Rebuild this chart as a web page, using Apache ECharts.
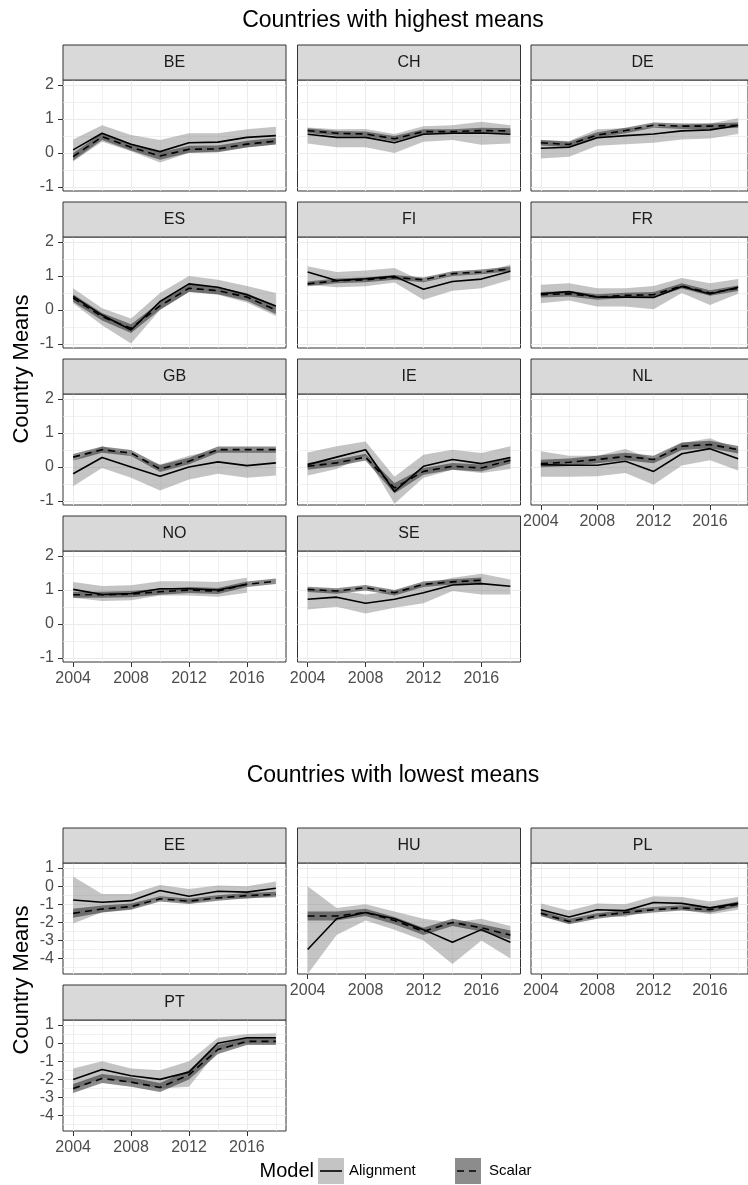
<!DOCTYPE html>
<html><head><meta charset="utf-8">
<script src="https://cdn.jsdelivr.net/npm/echarts@6/dist/echarts.min.js"></script>
<style>html,body{margin:0;padding:0;background:#fff}#c{width:748px;height:1185px}</style>
</head><body><div id="c"></div>
<script>
// ---------- data ----------
const years = [2004, 2006, 2008, 2010, 2012, 2014, 2016, 2018];
const xTickLabels = [2004, 2008, 2012, 2016];
const xMinorBreaks = [2006, 2010, 2014, 2018];
const yTicksHigh = [-1, 0, 1, 2];
const yMinorHigh = [-0.5, 0.5, 1.5];
const yTicksLow = [-4, -3, -2, -1, 0, 1];
const yMinorLow = [-4.5, -3.5, -2.5, -1.5, -0.5, 0.5];
const sectionTitles = ['Countries with highest means', 'Countries with lowest means'];
const modelNames = ['Alignment', 'Scalar'];

const BE_aln   = [0.09, 0.58, 0.26, 0.04, 0.30, 0.32, 0.46, 0.51];
const BE_alnLo = [-0.25, 0.33, 0.05, -0.28, 0.00, 0.04, 0.17, 0.26];
const BE_alnHi = [0.40, 0.82, 0.53, 0.38, 0.58, 0.58, 0.70, 0.77];
const BE_sca   = [-0.11, 0.48, 0.17, -0.09, 0.11, 0.12, 0.26, 0.35];
const BE_scaLo = [-0.22, 0.38, 0.07, -0.20, 0.01, 0.02, 0.16, 0.25];
const BE_scaHi = [0.00, 0.58, 0.27, 0.02, 0.21, 0.22, 0.36, 0.45];

const CH_aln   = [0.55, 0.46, 0.46, 0.30, 0.55, 0.58, 0.59, 0.55];
const CH_alnLo = [0.28, 0.17, 0.17, 0.00, 0.33, 0.38, 0.24, 0.28];
const CH_alnHi = [0.75, 0.70, 0.71, 0.56, 0.79, 0.82, 0.92, 0.82];
const CH_sca   = [0.66, 0.58, 0.56, 0.42, 0.63, 0.63, 0.66, 0.65];
const CH_scaLo = [0.59, 0.51, 0.49, 0.34, 0.56, 0.56, 0.58, 0.57];
const CH_scaHi = [0.73, 0.65, 0.63, 0.50, 0.70, 0.70, 0.74, 0.73];

const DE_aln   = [0.14, 0.17, 0.45, 0.51, 0.56, 0.65, 0.68, 0.81];
const DE_alnLo = [-0.16, -0.11, 0.21, 0.26, 0.30, 0.40, 0.43, 0.56];
const DE_alnHi = [0.38, 0.35, 0.70, 0.73, 0.75, 0.82, 0.87, 1.02];
const DE_sca   = [0.30, 0.25, 0.53, 0.66, 0.82, 0.79, 0.79, 0.82];
const DE_scaLo = [0.22, 0.17, 0.45, 0.58, 0.74, 0.71, 0.71, 0.74];
const DE_scaHi = [0.38, 0.33, 0.61, 0.74, 0.90, 0.87, 0.87, 0.90];

const ES_aln   = [0.40, -0.15, -0.59, 0.25, 0.77, 0.67, 0.45, 0.12];
const ES_alnLo = [0.20, -0.45, -0.99, 0.00, 0.54, 0.45, 0.22, -0.18];
const ES_alnHi = [0.64, 0.05, -0.25, 0.50, 1.00, 0.89, 0.71, 0.50];
const ES_sca   = [0.35, -0.20, -0.54, 0.12, 0.64, 0.57, 0.38, 0.00];
const ES_scaLo = [0.24, -0.31, -0.68, 0.01, 0.53, 0.46, 0.27, -0.12];
const ES_scaHi = [0.46, -0.09, -0.42, 0.23, 0.75, 0.68, 0.49, 0.12];

const FI_aln   = [1.12, 0.87, 0.92, 0.99, 0.61, 0.84, 0.91, 1.14];
const FI_alnLo = [0.74, 0.67, 0.70, 0.81, 0.30, 0.57, 0.64, 0.89];
const FI_alnHi = [1.29, 1.12, 1.16, 1.24, 0.84, 1.04, 1.09, 1.34];
const FI_sca   = [0.77, 0.86, 0.89, 0.96, 0.89, 1.07, 1.12, 1.21];
const FI_scaLo = [0.70, 0.79, 0.82, 0.89, 0.82, 1.00, 1.05, 1.14];
const FI_scaHi = [0.84, 0.93, 0.96, 1.03, 0.96, 1.14, 1.19, 1.28];

const FR_aln   = [0.48, 0.54, 0.38, 0.38, 0.37, 0.69, 0.47, 0.67];
const FR_alnLo = [0.20, 0.28, 0.10, 0.10, 0.02, 0.50, 0.15, 0.48];
const FR_alnHi = [0.74, 0.79, 0.64, 0.64, 0.71, 0.94, 0.79, 0.91];
const FR_sca   = [0.45, 0.48, 0.38, 0.43, 0.45, 0.71, 0.50, 0.64];
const FR_scaLo = [0.37, 0.40, 0.30, 0.35, 0.37, 0.63, 0.42, 0.56];
const FR_scaHi = [0.53, 0.56, 0.46, 0.51, 0.53, 0.79, 0.58, 0.72];

const GB_aln   = [-0.20, 0.28, 0.00, -0.27, 0.00, 0.15, 0.04, 0.12];
const GB_alnLo = [-0.57, -0.03, -0.32, -0.69, -0.37, -0.20, -0.32, -0.25];
const GB_alnHi = [0.17, 0.61, 0.33, 0.07, 0.33, 0.51, 0.46, 0.46];
const GB_sca   = [0.29, 0.51, 0.41, -0.06, 0.17, 0.51, 0.51, 0.51];
const GB_scaLo = [0.18, 0.42, 0.32, -0.15, 0.08, 0.42, 0.42, 0.42];
const GB_scaHi = [0.38, 0.60, 0.50, 0.06, 0.27, 0.60, 0.60, 0.60];

const IE_aln   = [0.07, 0.29, 0.51, -0.72, 0.02, 0.22, 0.10, 0.28];
const IE_alnLo = [-0.25, -0.06, 0.33, -1.08, -0.32, -0.08, -0.18, -0.06];
const IE_alnHi = [0.43, 0.61, 0.75, -0.29, 0.36, 0.51, 0.41, 0.61];
const IE_sca   = [0.02, 0.12, 0.29, -0.62, -0.13, 0.02, -0.03, 0.20];
const IE_scaLo = [-0.08, 0.02, 0.19, -0.78, -0.23, -0.08, -0.13, 0.10];
const IE_scaHi = [0.12, 0.22, 0.39, -0.47, -0.03, 0.12, 0.07, 0.30];

const NL_aln   = [0.07, 0.05, 0.05, 0.17, -0.13, 0.39, 0.54, 0.24];
const NL_alnLo = [-0.29, -0.29, -0.27, -0.18, -0.52, 0.04, 0.20, -0.10];
const NL_alnHi = [0.46, 0.33, 0.33, 0.53, 0.22, 0.71, 0.85, 0.53];
const NL_sca   = [0.10, 0.14, 0.22, 0.31, 0.22, 0.61, 0.66, 0.51];
const NL_scaLo = [-0.01, 0.03, 0.11, 0.20, 0.11, 0.50, 0.55, 0.40];
const NL_scaHi = [0.21, 0.25, 0.33, 0.42, 0.33, 0.72, 0.77, 0.62];

const NO_aln   = [1.02, 0.87, 0.90, 1.04, 1.04, 1.00, 1.17, null];
const NO_alnLo = [0.77, 0.68, 0.70, 0.84, 0.84, 0.80, 0.92, null];
const NO_alnHi = [1.24, 1.12, 1.14, 1.26, 1.26, 1.24, 1.36, null];
const NO_sca   = [0.86, 0.86, 0.88, 0.95, 1.00, 0.97, 1.17, 1.26];
const NO_scaLo = [0.77, 0.77, 0.79, 0.86, 0.91, 0.88, 1.09, 1.18];
const NO_scaHi = [0.95, 0.95, 0.97, 1.04, 1.09, 1.06, 1.25, 1.34];

const SE_aln   = [0.73, 0.79, 0.61, 0.73, 0.92, 1.15, 1.19, 1.11];
const SE_alnLo = [0.43, 0.51, 0.31, 0.48, 0.61, 0.97, 0.87, 0.87];
const SE_alnHi = [1.02, 1.00, 0.87, 0.97, 1.17, 1.36, 1.48, 1.31];
const SE_sca   = [1.02, 0.97, 1.07, 0.92, 1.17, 1.24, 1.29, null];
const SE_scaLo = [0.94, 0.89, 0.99, 0.84, 1.09, 1.16, 1.21, null];
const SE_scaHi = [1.10, 1.05, 1.15, 1.00, 1.25, 1.32, 1.37, null];

const EE_aln   = [-0.76, -0.89, -0.80, -0.24, -0.56, -0.28, -0.33, -0.11];
const EE_alnLo = [-2.06, -1.44, -1.26, -0.61, -0.94, -0.65, -0.70, -0.52];
const EE_alnHi = [0.54, -0.43, -0.43, 0.07, -0.15, 0.04, 0.00, 0.26];
const EE_sca   = [-1.50, -1.26, -1.13, -0.70, -0.83, -0.65, -0.52, -0.46];
const EE_scaLo = [-1.75, -1.45, -1.30, -0.85, -0.98, -0.80, -0.67, -0.61];
const EE_scaHi = [-1.25, -1.07, -0.96, -0.55, -0.68, -0.50, -0.37, -0.31];

const HU_aln   = [-3.5, -1.8, -1.45, -1.8, -2.4, -3.1, -2.4, -3.1];
const HU_alnLo = [-4.9, -2.7, -1.9, -2.4, -3.0, -4.3, -3.0, -4.0];
const HU_alnHi = [0.0, -1.2, -1.0, -1.4, -1.8, -2.0, -1.8, -2.2];
const HU_sca   = [-1.65, -1.65, -1.45, -1.9, -2.5, -2.0, -2.3, -2.7];
const HU_scaLo = [-1.9, -1.9, -1.65, -2.1, -2.7, -2.2, -2.5, -2.95];
const HU_scaHi = [-1.4, -1.4, -1.25, -1.7, -2.3, -1.8, -2.1, -2.45];

const PL_aln   = [-1.3, -1.7, -1.3, -1.35, -0.9, -0.95, -1.2, -0.95];
const PL_alnLo = [-1.65, -2.05, -1.65, -1.7, -1.25, -1.3, -1.55, -1.3];
const PL_alnHi = [-0.95, -1.35, -0.95, -1.0, -0.55, -0.6, -0.85, -0.6];
const PL_sca   = [-1.5, -1.95, -1.65, -1.45, -1.3, -1.2, -1.3, -1.0];
const PL_scaLo = [-1.65, -2.1, -1.8, -1.6, -1.45, -1.35, -1.45, -1.15];
const PL_scaHi = [-1.35, -1.8, -1.5, -1.3, -1.15, -1.05, -1.15, -0.85];

const PT_aln   = [-2.0, -1.45, -1.8, -2.0, -1.6, 0.0, 0.3, 0.3];
const PT_alnLo = [-2.6, -1.9, -2.2, -2.5, -2.4, -0.4, 0.0, 0.0];
const PT_alnHi = [-1.4, -1.0, -1.4, -1.5, -1.0, 0.3, 0.5, 0.55];
const PT_sca   = [-2.5, -1.95, -2.15, -2.45, -1.75, -0.35, 0.1, 0.1];
const PT_scaLo = [-2.75, -2.2, -2.4, -2.7, -2.0, -0.6, -0.1, -0.1];
const PT_scaHi = [-2.25, -1.7, -1.9, -2.2, -1.5, -0.1, 0.3, 0.3];

// ---------- layout / style ----------
const FONT = 'Liberation Sans, Arial, sans-serif';
const colLeft = [63, 297.5, 531];
const panelW = 223;
const stripH = 35;
const plotH = 111;
const rowPitch = 157;
const sections = [
  { stripTop0: 45, yMin: -1.12, yMax: 2.15, ticks: yTicksHigh, minor: yMinorHigh, titleY: 21, axTitleY: 369 },
  { stripTop0: 828, yMin: -4.85, yMax: 1.28, ticks: yTicksLow, minor: yMinorLow, titleY: 776, axTitleY: 980 }
];
const ALN_FILL = 'rgba(137,137,137,0.5)';
const SCA_FILL = 'rgba(25,25,25,0.5)';

const panels = [
  { code: 'BE', s: 0, r: 0, c: 0, d: [BE_aln, BE_alnLo, BE_alnHi, BE_sca, BE_scaLo, BE_scaHi], xl: false },
  { code: 'CH', s: 0, r: 0, c: 1, d: [CH_aln, CH_alnLo, CH_alnHi, CH_sca, CH_scaLo, CH_scaHi], xl: false },
  { code: 'DE', s: 0, r: 0, c: 2, d: [DE_aln, DE_alnLo, DE_alnHi, DE_sca, DE_scaLo, DE_scaHi], xl: false },
  { code: 'ES', s: 0, r: 1, c: 0, d: [ES_aln, ES_alnLo, ES_alnHi, ES_sca, ES_scaLo, ES_scaHi], xl: false },
  { code: 'FI', s: 0, r: 1, c: 1, d: [FI_aln, FI_alnLo, FI_alnHi, FI_sca, FI_scaLo, FI_scaHi], xl: false },
  { code: 'FR', s: 0, r: 1, c: 2, d: [FR_aln, FR_alnLo, FR_alnHi, FR_sca, FR_scaLo, FR_scaHi], xl: false },
  { code: 'GB', s: 0, r: 2, c: 0, d: [GB_aln, GB_alnLo, GB_alnHi, GB_sca, GB_scaLo, GB_scaHi], xl: false },
  { code: 'IE', s: 0, r: 2, c: 1, d: [IE_aln, IE_alnLo, IE_alnHi, IE_sca, IE_scaLo, IE_scaHi], xl: false },
  { code: 'NL', s: 0, r: 2, c: 2, d: [NL_aln, NL_alnLo, NL_alnHi, NL_sca, NL_scaLo, NL_scaHi], xl: true },
  { code: 'NO', s: 0, r: 3, c: 0, d: [NO_aln, NO_alnLo, NO_alnHi, NO_sca, NO_scaLo, NO_scaHi], xl: true },
  { code: 'SE', s: 0, r: 3, c: 1, d: [SE_aln, SE_alnLo, SE_alnHi, SE_sca, SE_scaLo, SE_scaHi], xl: true },
  { code: 'EE', s: 1, r: 0, c: 0, d: [EE_aln, EE_alnLo, EE_alnHi, EE_sca, EE_scaLo, EE_scaHi], xl: false },
  { code: 'HU', s: 1, r: 0, c: 1, d: [HU_aln, HU_alnLo, HU_alnHi, HU_sca, HU_scaLo, HU_scaHi], xl: true },
  { code: 'PL', s: 1, r: 0, c: 2, d: [PL_aln, PL_alnLo, PL_alnHi, PL_sca, PL_scaLo, PL_scaHi], xl: true },
  { code: 'PT', s: 1, r: 1, c: 0, d: [PT_aln, PT_alnLo, PT_alnHi, PT_sca, PT_scaLo, PT_scaHi], xl: true }
];

const grid = [], xAxis = [], yAxis = [], series = [], graphic = [];
const gridLineStyle = { color: '#ebebeb', width: 1 };
const minorLineStyle = { color: '#ebebeb', width: 0.7 };
const plainNum = v => String(v);

function pts(arr) {
  const out = [];
  arr.forEach((v, i) => { if (v !== null) out.push([years[i], v]); });
  return out;
}
function bandSeries(gi, lo, hi, fill, z) {
  const rows = [];
  lo.forEach((v, i) => { if (v !== null && hi[i] !== null) rows.push([years[i], v, hi[i]]); });
  return {
    type: 'custom', xAxisIndex: gi * 2, yAxisIndex: gi * 2, silent: true, z: z, animation: false,
    data: rows,
    encode: { x: 0, y: [1, 2] },
    renderItem: function (params, api) {
      if (params.dataIndex !== 0) return { type: 'group', children: [] };
      const upper = rows.map(d => api.coord([d[0], d[2]]));
      const lower = rows.map(d => api.coord([d[0], d[1]])).reverse();
      const cs = params.coordSys;
      const poly = echarts.graphic.clipPointsByRect(upper.concat(lower), { x: cs.x, y: cs.y, width: cs.width, height: cs.height });
      return { type: 'polygon', shape: { points: poly }, style: { fill: fill, stroke: null } };
    }
  };
}

panels.forEach((p, gi) => {
  const sec = sections[p.s];
  const stripTop = sec.stripTop0 + p.r * rowPitch;
  const left = colLeft[p.c];
  const top = stripTop + stripH;
  grid.push({ left: left, top: top, width: panelW, height: plotH, show: true, borderColor: '#333333', borderWidth: 1, backgroundColor: '#ffffff', containLabel: false });
  const yl = p.c === 0;
  xAxis.push({
    type: 'value', gridIndex: gi, min: 2003.3, max: 2018.7,
    axisLine: { show: false, onZero: false },
    axisTick: { show: p.xl, length: 5, customValues: xTickLabels, lineStyle: { color: '#333333', width: 1 } },
    axisLabel: { show: p.xl, customValues: xTickLabels, formatter: plainNum, color: '#4d4d4d', fontSize: 16, fontFamily: FONT, margin: 9 },
    splitLine: { show: true, lineStyle: gridLineStyle }
  });
  xAxis.push({
    type: 'value', gridIndex: gi, min: 2003.3, max: 2018.7, position: 'bottom',
    axisLine: { show: false, onZero: false },
    axisTick: { show: false, customValues: xMinorBreaks },
    axisLabel: { show: false, customValues: xMinorBreaks },
    splitLine: { show: true, lineStyle: minorLineStyle }
  });
  yAxis.push({
    type: 'value', gridIndex: gi, min: sec.yMin, max: sec.yMax,
    axisLine: { show: false, onZero: false },
    axisTick: { show: yl, length: 5, customValues: sec.ticks, lineStyle: { color: '#333333', width: 1 } },
    axisLabel: { show: yl, customValues: sec.ticks, formatter: plainNum, color: '#4d4d4d', fontSize: 16, fontFamily: FONT, margin: 9 },
    splitLine: { show: true, lineStyle: gridLineStyle }
  });
  yAxis.push({
    type: 'value', gridIndex: gi, min: sec.yMin, max: sec.yMax, position: 'left',
    axisLine: { show: false, onZero: false },
    axisTick: { show: false, customValues: sec.minor },
    axisLabel: { show: false, customValues: sec.minor },
    splitLine: { show: true, lineStyle: minorLineStyle }
  });
  const [aln, alnLo, alnHi, sca, scaLo, scaHi] = p.d;
  series.push(bandSeries(gi, alnLo, alnHi, ALN_FILL, 2));
  series.push(bandSeries(gi, scaLo, scaHi, SCA_FILL, 3));
  const common = { type: 'line', xAxisIndex: gi * 2, yAxisIndex: gi * 2, symbol: 'none', silent: true, animation: false, z: 5 };
  series.push(Object.assign({}, common, { name: modelNames[0], data: pts(aln), lineStyle: { color: '#000000', width: 1.6, type: 'solid' } }));
  series.push(Object.assign({}, common, { name: modelNames[1], data: pts(sca), lineStyle: { color: '#000000', width: 1.6, type: [7, 5] } }));
  graphic.push({ type: 'rect', shape: { x: left, y: stripTop, width: panelW, height: stripH }, style: { fill: '#d9d9d9', stroke: '#333333', lineWidth: 1 }, z: 10 });
  graphic.push({ type: 'text', x: left + panelW / 2, y: stripTop + stripH / 2, style: { text: p.code, align: 'center', verticalAlign: 'middle', fontSize: 16, fontFamily: FONT, fill: '#1a1a1a' }, z: 11 });
});

sections.forEach((sec, si) => {
  graphic.push({ type: 'text', x: 393, y: sec.titleY, style: { text: sectionTitles[si], align: 'center', verticalAlign: 'middle', fontSize: 23, fontFamily: FONT, fill: '#000000' }, z: 11 });
  graphic.push({ type: 'text', x: 22, y: sec.axTitleY, rotation: Math.PI / 2, style: { text: 'Country Means', align: 'center', verticalAlign: 'middle', fontSize: 22, fontFamily: FONT, fill: '#000000' }, z: 11 });
});

// legend
const legY = 1171;
graphic.push({ type: 'text', x: 314, y: legY, style: { text: 'Model', align: 'right', verticalAlign: 'middle', fontSize: 20, fontFamily: FONT, fill: '#000000' } });
const keyX = [318, 455];
const labX = [349, 489];
modelNames.forEach((m, i) => {
  graphic.push({ type: 'rect', shape: { x: keyX[i], y: legY - 13, width: 26, height: 26 }, style: { fill: i === 0 ? ALN_FILL : SCA_FILL } });
  graphic.push({ type: 'line', shape: { x1: keyX[i] + 2, y1: legY, x2: keyX[i] + 24, y2: legY }, style: { stroke: '#000', lineWidth: 1.6, lineDash: i === 0 ? null : [7, 5] } });
  graphic.push({ type: 'text', x: labX[i], y: legY, style: { text: m, align: 'left', verticalAlign: 'middle', fontSize: 15, fontFamily: FONT, fill: '#000000' } });
});

const chart = echarts.init(document.getElementById('c'), null, { renderer: 'canvas' });
chart.setOption({ animation: false, backgroundColor: '#ffffff', grid, xAxis, yAxis, series, graphic });
</script>
</body></html>
